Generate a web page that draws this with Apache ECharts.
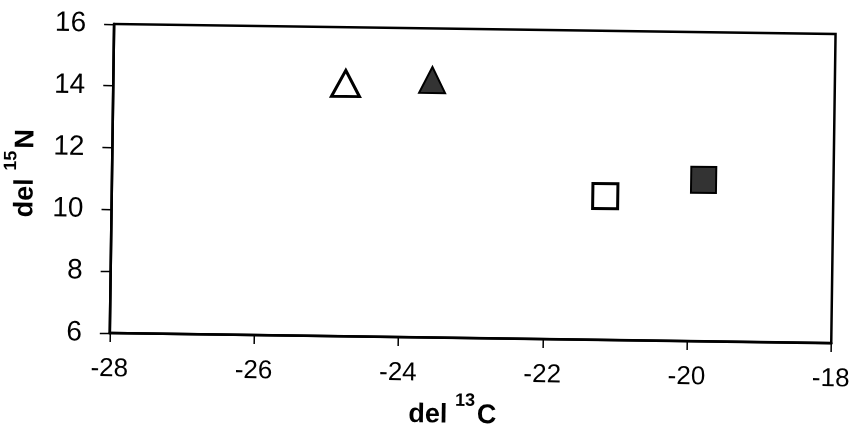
<!DOCTYPE html>
<html><head><meta charset="utf-8">
<script src="https://cdn.jsdelivr.net/npm/echarts@6/dist/echarts.min.js"></script>
<style>
html,body{margin:0;padding:0;background:#fff}
#c{width:852px;height:428px}
</style>
</head><body><div id="c"></div>
<script>
const xTicks = [-28, -26, -24, -22, -20, -18];
const yTicks = [6, 8, 10, 12, 14, 16];
const openTriangle = [[-24.78, 14.18]];
const filledTriangle = [[-23.58, 14.33]];
const openSquare = [[-21.16, 10.65]];
const filledSquare = [[-19.8, 11.22]];

const chart = echarts.init(document.getElementById('c'));
const font = 'Liberation Sans, Arial, sans-serif';
const nameRich = {
  a: { fontSize: 27, fontWeight: 'bold', fontFamily: font, color: '#000', lineHeight: 37, verticalAlign: 'bottom' },
  s: { fontSize: 18, fontWeight: 'bold', fontFamily: font, color: '#000', lineHeight: 18, verticalAlign: 'top', padding: [0, 2, 0, 0] }
};
chart.setOption({
  animation: false,
  backgroundColor: '#fff',
  grid: { left: 111.5, right: 19, top: 28.3, bottom: 90.6, outerBoundsMode: 'none', containLabel: false,
          show: true, borderColor: '#000', borderWidth: 2.5 },
  xAxis: {
    type: 'value', min: xTicks[0], max: xTicks[xTicks.length-1], interval: 2,
    splitLine: { show: false },
    axisLine: { lineStyle: { color: '#000', width: 2.5 } },
    axisTick: { show: true, length: 9, lineStyle: { color: '#000', width: 1.5 } },
    axisLabel: { color: '#000', fontSize: 26, fontFamily: font, margin: 23 },
    name: '{a|del }{s|13}{a|C}', nameLocation: 'middle', nameGap: 42,
    nameTextStyle: { padding: [0, 34, 0, 0], rich: nameRich }
  },
  yAxis: {
    type: 'value', min: yTicks[0], max: yTicks[yTicks.length-1], interval: 2,
    splitLine: { show: false },
    axisLine: { lineStyle: { color: '#000', width: 2.5 } },
    axisTick: { show: true, length: 10, lineStyle: { color: '#000', width: 1.5 } },
    axisLabel: { color: '#000', fontSize: 28, fontFamily: font, margin: 28 },
    name: '{a|del }{s|15}{a|N}', nameLocation: 'middle', nameGap: 73,
    nameTextStyle: { padding: [0, 0, 0, 8], rich: nameRich }
  },
  series: [
    { type: 'scatter', data: openTriangle, symbol: 'triangle', symbolSize: [28, 26],
      itemStyle: { color: '#fff', borderColor: '#000', borderWidth: 3, opacity: 1 } },
    { type: 'scatter', data: filledTriangle, symbol: 'triangle', symbolSize: [26, 26],
      itemStyle: { color: '#333', borderColor: '#000', borderWidth: 2, opacity: 1 } },
    { type: 'scatter', data: openSquare, symbol: 'rect', symbolSize: [25, 25],
      itemStyle: { color: '#fff', borderColor: '#000', borderWidth: 3, opacity: 1 } },
    { type: 'scatter', data: filledSquare, symbol: 'rect', symbolSize: [25, 26],
      itemStyle: { color: '#333', borderColor: '#000', borderWidth: 2, opacity: 1 } }
  ]
});

// slight clockwise tilt of the whole scanned figure, applied inside the canvas
(function tilt() {
  const zr = chart.getZr();
  const roots = zr.storage.getRoots();
  roots.forEach(function (r) {
    r.originX = 426; r.originY = 214; r.rotation = -0.0139;
    if (r.traverse) r.traverse(function (el) { if (el.markRedraw) el.markRedraw(); });
    if (r.markRedraw) r.markRedraw();
  });
  zr.refreshImmediately();
})();
</script></body></html>
